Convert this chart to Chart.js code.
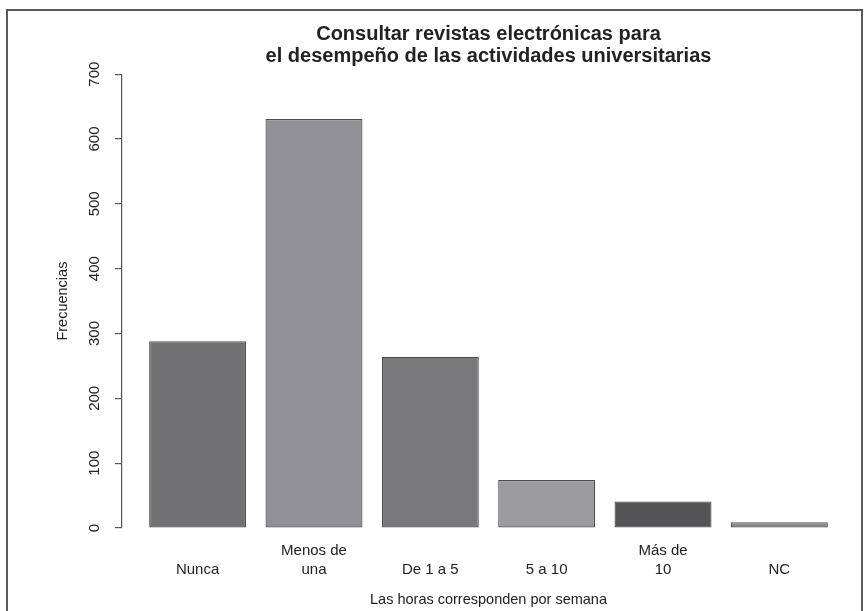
<!DOCTYPE html>
<html>
<head>
<meta charset="utf-8">
<script src="https://cdn.jsdelivr.net/npm/chart.js@4.4.1/dist/chart.umd.min.js"></script>
<style>
  body { margin: 0; background: #fff; }
  #wrap { position: relative; width: 865px; height: 611px; }
  #frame { position: absolute; left: 6px; top: 9px; width: 853px; height: 610px;
           border: 2px solid #5a5a5a; border-bottom: none; pointer-events: none; }
  canvas { position: absolute; left: 0; top: 0; }
</style>
</head>
<body>
<div id="wrap">
  <canvas id="chart" width="865" height="611"></canvas>
  <div id="frame"></div>
</div>
<script>
// data
var categories = ["Nunca", "Menos de\nuna", "De 1 a 5", "5 a 10", "Más de\n10", "NC"];
var frecuencias = [288, 631, 264, 74, 41, 9];
var barColors = ['#717174', '#919195', '#79797c', '#9c9c9f', '#545457', '#8a8a8d'];
var yTicks = [0, 100, 200, 300, 400, 500, 600, 700];

// R barplot spacing: width 1, space 0.2
var points = frecuencias.map(function(v, i) {
  return {x: 0.7 + 1.2 * i, y: v};
});

var ctx = document.getElementById('chart').getContext('2d');
var chart = new Chart(ctx, {
  type: 'bar',
  data: {
    datasets: [{
      data: points,
      backgroundColor: barColors,
      borderColor: '#4d4d4f',
      borderWidth: 1.2,
      borderSkipped: false,
      categoryPercentage: 1,
      barPercentage: 1 / 1.2
    }]
  },
  options: {
    responsive: false,
    animation: false,
    layout: { padding: { left: 0, right: 10, top: 0, bottom: 0 } },
    plugins: {
      legend: { display: false },
      tooltip: { enabled: false },
      title: {
        display: true,
        fullSize: false,
        text: ['Consultar revistas electrónicas para', 'el desempeño de las actividades universitarias'],
        color: '#222',
        font: { family: 'Liberation Sans, Arial, sans-serif', size: 20, weight: 'bold', lineHeight: 1.08 },
        padding: { top: 24, bottom: 7 }
      }
    },
    scales: {
      x: {
        type: 'linear',
        offset: false,
        min: -0.08,
        max: 7.48,
        grid: { display: false },
        border: { display: false },
        afterBuildTicks: function(scale) {
          scale.ticks = points.map(function(p) { return {value: p.x}; });
        },
        afterFit: function(scale) { scale.height = 83; },
        ticks: {
          autoSkip: false,
          maxRotation: 0,
          padding: 5,
          color: '#222',
          font: { family: 'Liberation Sans, Arial, sans-serif', size: 15, lineHeight: 1.3 },
          callback: function(value, index) {
            var lines = categories[index].split('\n');
            if (lines.length < 2) lines.unshift('');
            return lines;
          }
        },
        title: {
          display: true,
          text: 'Las horas corresponden por semana',
          color: '#222',
          font: { family: 'Liberation Sans, Arial, sans-serif', size: 14.5 },
          padding: { top: 0, bottom: 2 }
        }
      },
      y: {
        min: 0,
        max: 700,
        afterBuildTicks: function(scale) {
          scale.ticks = yTicks.map(function(t) { return {value: t}; });
        },
        afterFit: function(scale) { scale.width = 122; },
        grid: { drawOnChartArea: false, drawTicks: true, tickLength: 7, color: '#555', lineWidth: 1.2 },
        border: { display: true, color: '#555', width: 1.2 },
        ticks: {
          minRotation: 90,
          maxRotation: 90,
          crossAlign: 'center',
          padding: 8,
          color: '#222',
          font: { family: 'Liberation Sans, Arial, sans-serif', size: 15 }
        },
        title: {
          display: true,
          text: 'Frecuencias',
          color: '#222',
          font: { family: 'Liberation Sans, Arial, sans-serif', size: 14.5 },
          padding: { top: 54, bottom: 0 }
        }
      }
    }
  }
});
</script>
</body>
</html>
